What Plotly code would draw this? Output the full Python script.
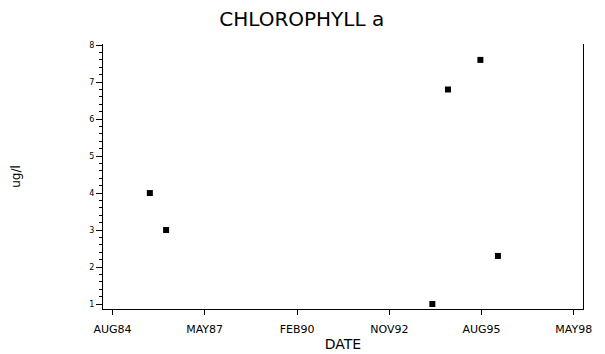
import plotly.graph_objects as go

dates = ["1985-09-12", "1986-03-08", "1994-02-12", "1994-08-01", "1995-07-20", "1996-01-27"]
chl_a = [4.0, 3.0, 1.0, 6.8, 7.6, 2.3]

x_tick_dates = ["1984-08-01", "1987-05-01", "1990-02-01", "1992-11-01", "1995-08-01", "1998-05-01"]
x_tick_labels = ["AUG84", "MAY87", "FEB90", "NOV92", "AUG95", "MAY98"]
y_tick_vals = [1, 2, 3, 4, 5, 6, 7, 8]

fig = go.Figure()
fig.add_trace(go.Scatter(
    x=dates, y=chl_a, mode="markers",
    marker=dict(symbol="square", size=6, color="black"),
    showlegend=False,
))

fig.update_layout(
    width=605, height=354,
    margin=dict(l=95, r=30, t=36, b=53, autoexpand=False),
    paper_bgcolor="white", plot_bgcolor="white",
    font=dict(family="DejaVu Sans, Liberation Sans, sans-serif", color="black"),
    title=dict(text="CHLOROPHYLL a", x=0.4855, xanchor="center", y=0.968, yanchor="middle",
               font=dict(size=20, color="black")),
    xaxis=dict(
        type="date",
        range=["1984-04-20", "1998-08-10"],
        tickvals=x_tick_dates, ticktext=x_tick_labels,
        ticks="outside", ticklen=5, tickcolor="black", tickwidth=1,
        ticklabelstandoff=5,
        showline=True, linecolor="black", linewidth=1,
        showgrid=False, zeroline=False, automargin=False,
        tickfont=dict(size=11),
        title=dict(text="DATE", font=dict(size=14), standoff=3),
    ),
    yaxis=dict(
        range=[0.865, 8.03],
        tickvals=y_tick_vals,
        ticks="outside", ticklen=6, tickcolor="black", tickwidth=1,
        minor=dict(dtick=0.2, ticks="outside", ticklen=3, tickcolor="black", showgrid=False),
        showline=True, linecolor="black", linewidth=1, mirror=True,
        showgrid=False, zeroline=False, automargin=False,
        tickfont=dict(size=8),
        title=dict(text="ug/l", font=dict(size=12), standoff=66),
    ),
)

fig.write_html("out.html")
